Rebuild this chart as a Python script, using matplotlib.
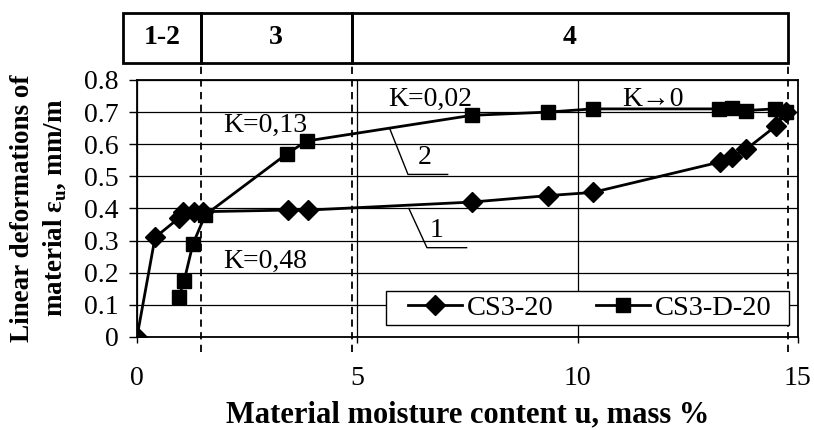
import matplotlib.pyplot as plt
from matplotlib.patches import Rectangle
import matplotlib.transforms as mtransforms

plt.rcParams['font.family'] = ['Liberation Serif', 'DejaVu Serif']
plt.rcParams['mathtext.fontset'] = 'custom'
plt.rcParams['mathtext.rm'] = 'Liberation Serif:bold'
plt.rcParams['mathtext.bf'] = 'Liberation Serif:bold'

# moisture content u, mass %, and linear deformation, mm/m
u_cs3 = [0, 0.41, 0.95, 1.05, 1.3, 1.5, 3.42, 3.88, 7.6, 9.32, 10.34, 13.24, 13.5, 13.83, 14.5, 14.73]
eps_cs3 = [0, 0.31, 0.37, 0.39, 0.39, 0.39, 0.395, 0.395, 0.42, 0.44, 0.45, 0.545, 0.56, 0.585, 0.657, 0.70]

u_cs3d = [0.95, 1.07, 1.27, 1.55, 3.4, 3.85, 7.6, 9.32, 10.34, 13.2, 13.5, 13.83, 14.47, 14.73]
eps_cs3d = [0.125, 0.175, 0.29, 0.38, 0.57, 0.61, 0.69, 0.70, 0.71, 0.71, 0.713, 0.705, 0.71, 0.70]

# stage boundaries along u and their names
zone_edges = [-0.32, 1.45, 4.87, 14.78]
zone_labels = ["1-2", "3", "4"]

fig = plt.figure(figsize=(8.14, 4.30), dpi=100)
ax = fig.add_axes([0.1683, 0.2163, 0.8120, 0.5977])

ax.plot(u_cs3, eps_cs3, color='black', lw=2, marker='D', ms=10, label='CS3-20')
ax.plot(u_cs3d, eps_cs3d, color='black', lw=2, marker='s', ms=10, label='CS3-D-20')

ax.set_xlim(0, 15)
ax.set_ylim(0, 0.8)
ax.set_xticks([0, 5, 10, 15])
ax.set_yticks([0, 0.1, 0.2, 0.3, 0.4, 0.5, 0.6, 0.7, 0.8])
ax.set_yticklabels(["0", "0.1", "0.2", "0.3", "0.4", "0.5", "0.6", "0.7", "0.8"])
ax.tick_params(axis='y', labelsize=20, length=6, width=1, pad=7)
ax.tick_params(axis='x', labelsize=20, length=4, width=1, pad=17)
ax.grid(True, color='black', lw=0.9)
ax.set_axisbelow(True)
for sp in ax.spines.values():
    sp.set_linewidth(1.3)

# dashed stage boundaries reaching up to the stage box
trans = mtransforms.blended_transform_factory(ax.transData, ax.transAxes)
for xe in zone_edges[1:]:
    ax.plot([xe, xe], [-0.06, 1.066], transform=trans, color='black',
            lw=1.3, ls=(0, (4, 3)), clip_on=False)

# stage box above the plot
box_y0, box_y1 = 1.066, 1.261
for i, name in enumerate(zone_labels):
    x0, x1 = zone_edges[i], zone_edges[i + 1]
    ax.add_patch(Rectangle((x0, box_y0), x1 - x0, box_y1 - box_y0, transform=trans,
                           fill=False, ec='black', lw=2, clip_on=False))
    ax.text((x0 + x1) / 2, (box_y0 + box_y1) / 2, name, transform=trans,
            ha='center', va='center', fontsize=20, fontweight='bold')

# rate labels
ax.text(1.95, 0.66, "K=0,13", fontsize=20, va='center')
ax.text(1.95, 0.235, "K=0,48", fontsize=20, va='center')
ax.text(5.7, 0.74, "K=0,02", fontsize=20, va='center')
ax.text(11.0, 0.74, "K\u21920", fontsize=20, va='center')

# curve number leaders
ax.plot([5.74, 6.15, 7.05], [0.647, 0.506, 0.506], color='black', lw=1)
ax.text(6.53, 0.56, "2", fontsize=20, ha='center', va='center')
ax.plot([6.17, 6.58, 7.48], [0.40, 0.278, 0.278], color='black', lw=1)
ax.text(6.8, 0.33, "1", fontsize=20, ha='center', va='center')

# legend with its own wider frame
ax.add_patch(Rectangle((0.377, 0.047), 0.609, 0.132, transform=ax.transAxes,
                       fc='white', ec='black', lw=1, zorder=4))
leg = ax.legend(loc='center', bbox_to_anchor=(0.685, 0.113), ncol=2,
                fontsize=20.5, frameon=False, handlelength=1.9, handletextpad=0.15,
                columnspacing=1.5, borderpad=0.15, borderaxespad=0)
leg.set_zorder(5)

ax.set_xlabel("Material moisture content u, mass %", fontsize=22,
              fontweight='bold', labelpad=7)
fig.text(0.048, 0.516, "Linear deformations of\nmaterial \u03b5$_\\mathrm{u}$, mm/m",
         rotation=90, ha='center', va='center', fontsize=19.5, fontweight='bold',
         multialignment='center', linespacing=1.3)

fig.savefig("out.png", dpi=100)
